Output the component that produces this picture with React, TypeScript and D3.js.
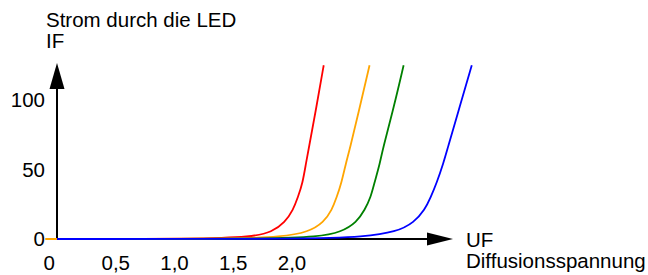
import { useEffect, useRef } from 'react';
import * as d3 from 'd3';

// Kennlinien: Strom IF (mA) über Spannung UF (V)
const currents = [0, 0, 1.5, 5, 12, 21, 30, 40, 55, 64, 96, 125];
const redU = [0, 1.2, 1.66, 1.83, 1.94, 2.01, 2.05, 2.09, 2.12, 2.14, 2.21, 2.27];
const orangeU = [-0.1, 1.5, 1.91, 2.14, 2.27, 2.34, 2.38, 2.42, 2.46, 2.49, 2.58, 2.66];
const greenU = [0, 1.8, 2.22, 2.42, 2.55, 2.62, 2.67, 2.7, 2.75, 2.77, 2.87, 2.95];
const blueU = [0, 2.2, 2.6, 2.89, 3.04, 3.13, 3.18, 3.23, 3.29, 3.32, 3.43, 3.53];

const xTicks = [0, 0.5, 1.0, 1.5, 2.0];
const yTicks = [0, 50, 100];

const series = [
  { name: 'rot', color: '#ff0000', u: redU },
  { name: 'orange', color: '#ffa500', u: orangeU },
  { name: 'grün', color: '#008000', u: greenU },
  { name: 'blau', color: '#0000ff', u: blueU },
];

export default function App() {
  const svgRef = useRef<SVGSVGElement>(null);

  useEffect(() => {
    if (!svgRef.current) return;
    const width = 648;
    const height = 275;
    const svg = d3.select(svgRef.current).attr('width', width).attr('height', height);
    svg.selectAll('*').remove();

    const font = 'Liberation Sans, Arial, sans-serif';
    const fontSize = 20.5;
    const x = d3.scaleLinear().domain([0, 2]).range([57, 292]);
    const y = d3.scaleLinear().domain([0, 100]).range([239, 100]);

    // Achsen mit Pfeilspitzen
    svg.append('line')
      .attr('x1', x(0)).attr('x2', x(0))
      .attr('y1', y(0)).attr('y2', 88)
      .attr('stroke', '#000').attr('stroke-width', 2);
    svg.append('path')
      .attr('d', `M${x(0)},63 L${x(0) - 7.5},89 L${x(0) + 7.5},89 Z`)
      .attr('fill', '#000');

    svg.append('line')
      .attr('x1', x(0)).attr('x2', 428)
      .attr('y1', y(0)).attr('y2', y(0))
      .attr('stroke', '#000').attr('stroke-width', 2);
    svg.append('path')
      .attr('d', `M453,${y(0)} L427,${y(0) - 6.5} L427,${y(0) + 6.5} Z`)
      .attr('fill', '#000');

    // Kennlinien (geglättet)
    const line = d3.line<[number, number]>()
      .x((d) => x(d[0]))
      .y((d) => y(d[1]))
      .curve(d3.curveBasis);

    series.forEach((s) => {
      const pts = s.u.map((u, i) => [u, currents[i]] as [number, number]);
      svg.append('path')
        .datum(pts)
        .attr('d', line)
        .attr('fill', 'none')
        .attr('stroke', s.color)
        .attr('stroke-width', 1.8);
    });

    // Beschriftungen
    svg.selectAll('.ytick')
      .data(yTicks)
      .join('text')
      .attr('class', 'ytick')
      .attr('x', 45)
      .attr('y', (d) => y(d) + 7)
      .attr('text-anchor', 'end')
      .attr('font-family', font)
      .attr('font-size', fontSize)
      .attr('fill', '#000')
      .text((d) => String(d));

    svg.selectAll('.xtick')
      .data(xTicks)
      .join('text')
      .attr('class', 'xtick')
      .attr('x', (d) => (d === 0 ? x(0) - 2 : x(d)))
      .attr('y', 270)
      .attr('text-anchor', (d) => (d === 0 ? 'end' : 'middle'))
      .attr('font-family', font)
      .attr('font-size', fontSize)
      .attr('fill', '#000')
      .text((d) => (d === 0 ? '0' : d.toFixed(1).replace('.', ',')));

    const labels = [
      { text: 'Strom durch die LED', x: 46, y: 27 },
      { text: 'IF', x: 46, y: 48 },
      { text: 'UF', x: 466, y: 247 },
      { text: 'Diffusionsspannung', x: 466, y: 268 },
    ];
    svg.selectAll('.label')
      .data(labels)
      .join('text')
      .attr('class', 'label')
      .attr('x', (d) => d.x)
      .attr('y', (d) => d.y)
      .attr('font-family', font)
      .attr('font-size', fontSize)
      .attr('fill', '#000')
      .text((d) => d.text);
  }, []);

  return (
    <svg
      ref={svgRef}
      style={{ position: 'absolute', left: 0, top: 0, display: 'block', background: '#fff' }}
    />
  );
}
